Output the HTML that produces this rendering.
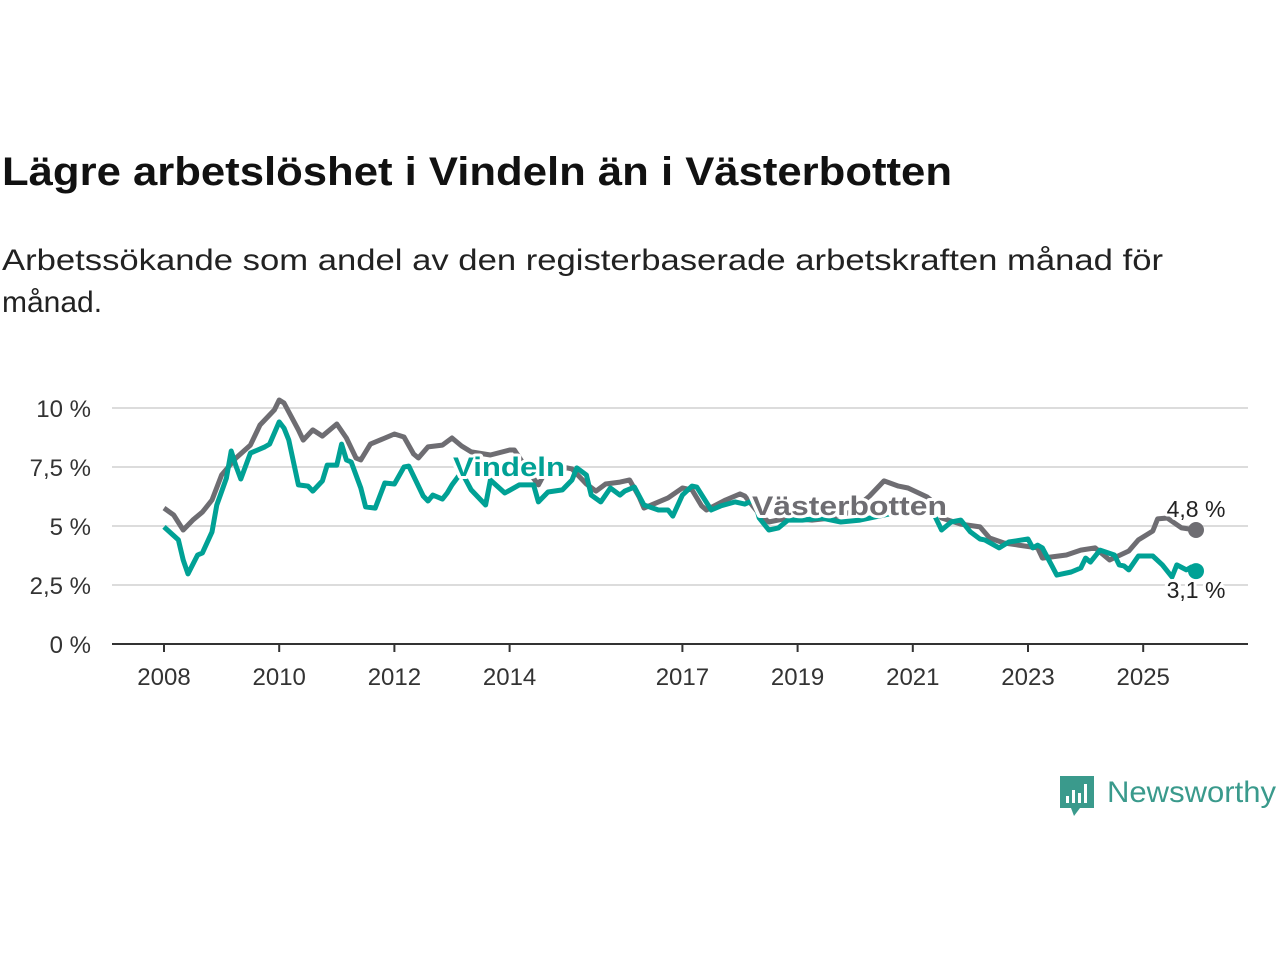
<!DOCTYPE html>
<html><head><meta charset="utf-8"><style>
body{margin:0;background:#fff;}
svg{display:block;font-family:"Liberation Sans",sans-serif;}
</style></head><body>
<svg width="1280" height="960" viewBox="0 0 1280 960">
<text x="2" y="185" font-size="40" font-weight="bold" fill="#111" textLength="950" lengthAdjust="spacingAndGlyphs">Lägre arbetslöshet i Vindeln än i Västerbotten</text>
<text x="2" y="270" font-size="30" fill="#222" textLength="1161" lengthAdjust="spacingAndGlyphs">Arbetssökande som andel av den registerbaserade arbetskraften månad för</text>
<text x="2" y="312" font-size="30" fill="#222">månad.</text>
<g id="grid"></g><g id="series"></g><g id="labels"></g>
<g>
<path d="M1060 776h34v32h-14l-6 8-3-8h-11z" fill="#3a9a8c"/>
<rect x="1066" y="796" width="3" height="7" fill="#fff"/><rect x="1072" y="790" width="3" height="13" fill="#fff"/><rect x="1078" y="793" width="3" height="10" fill="#fff"/><rect x="1084" y="784" width="3" height="19" fill="#fff"/>
<text x="1107" y="802" font-size="30" fill="#3a9a8c" textLength="169" lengthAdjust="spacingAndGlyphs">Newsworthy</text>
</g>
</svg>
<script>
const yTicks=[0,2.5,5,7.5,10];
const yTickLabels=["0 %","2,5 %","5 %","7,5 %","10 %"];
const xTicks=[2008,2010,2012,2014,2017,2019,2021,2023,2025];
const vbMonths=[0,2,4,6,8,10,12,15,18,20,23,24,25,28,29,31,33,36,38,40,41,43,45,48,50,52,53,55,58,60,62,64,68,72,73,76,78,79,84,85,88,90,92,95,97,99,100,105,108,110,112,113,117,120,121,124,126,130,135,139,143,147,150,153,155,159,161,162,166,170,172,175,178,182,183,188,191,194,197,201,203,206,207,209,212,215];
const vbValues=[5.76,5.47,4.83,5.25,5.59,6.1,7.16,7.88,8.43,9.28,9.92,10.34,10.21,9.07,8.64,9.07,8.81,9.32,8.73,7.88,7.8,8.47,8.64,8.9,8.77,8.05,7.88,8.35,8.43,8.73,8.39,8.14,8.01,8.22,8.22,7.29,6.74,7.12,7.46,7.42,6.78,6.48,6.78,6.86,6.95,6.23,5.76,6.19,6.61,6.53,5.85,5.68,6.1,6.36,6.27,5.51,5.17,5.34,5.25,5.34,5.59,6.27,6.91,6.69,6.61,6.23,5.89,5.34,5.08,4.96,4.49,4.28,4.19,4.07,3.64,3.77,3.98,4.07,3.56,3.94,4.41,4.79,5.3,5.34,4.92,4.83];
const viMonths=[0,3,4,5,7,8,10,11,13,14,15,16,18,21,22,24,25,26,28,30,31,33,34,36,37,38,39,41,42,44,46,48,50,51,54,55,56,58,59,60,62,64,67,68,71,74,77,78,80,83,85,86,88,89,91,93,95,96,98,100,103,105,106,108,110,111,114,116,119,121,123,124,126,128,130,133,137,141,145,149,153,158,160,161,162,164,166,168,170,171,174,176,180,181,182,183,185,186,189,191,192,193,195,198,199,200,201,203,206,208,210,211,213,214,215];
const viValues=[4.96,4.41,3.56,2.97,3.77,3.86,4.75,5.89,7.03,8.18,7.54,6.99,8.09,8.35,8.47,9.41,9.15,8.64,6.74,6.69,6.48,6.91,7.58,7.58,8.47,7.8,7.71,6.61,5.81,5.76,6.82,6.78,7.5,7.54,6.27,6.06,6.31,6.14,6.4,6.74,7.29,6.53,5.89,6.95,6.4,6.74,6.74,6.02,6.44,6.53,6.95,7.46,7.16,6.31,6.02,6.61,6.31,6.48,6.65,5.89,5.68,5.68,5.42,6.31,6.69,6.65,5.68,5.85,6.02,5.93,6.1,5.34,4.83,4.92,5.25,5.25,5.34,5.17,5.25,5.42,5.59,5.68,5.68,5.25,4.83,5.17,5.25,4.75,4.45,4.41,4.07,4.32,4.45,4.07,4.19,4.07,3.31,2.92,3.05,3.22,3.64,3.47,3.98,3.77,3.35,3.31,3.14,3.73,3.73,3.35,2.84,3.35,3.14,3.26,3.05,3.09];
const NS="http://www.w3.org/2000/svg";
const X0=164,PXY=57.6,Y0=644,PXV=23.6;
function xm(m){return X0+m*PXY/12;}
function xy(yr){return X0+(yr-2008)*PXY;}
function yv(v){return Y0-v*PXV;}
function mk(tag,attrs,parent,txt){const e=document.createElementNS(NS,tag);for(const k in attrs)e.setAttribute(k,attrs[k]);if(txt!==undefined)e.textContent=txt;parent.appendChild(e);return e;}
const grid=document.getElementById('grid');
yTicks.forEach((t,i)=>{
  if(t>0){const l=mk('line',{x1:112,x2:1248,y1:yv(t),y2:yv(t),stroke:'#dcdcdc','stroke-width':2},grid);
  
  }
  const tx=mk('text',{x:91,y:yv(t)+9,'font-size':24,fill:'#333','text-anchor':'end'},grid,yTickLabels[i]);
  
  
});
const ax=mk('line',{x1:112,x2:1248,y1:Y0,y2:Y0,stroke:'#333','stroke-width':2},grid);


xTicks.forEach(t=>{
  mk('line',{x1:xy(t),x2:xy(t),y1:Y0,y2:Y0+8,stroke:'#333','stroke-width':2},grid);
  const tx=mk('text',{x:xy(t),y:685,'font-size':24,fill:'#333','text-anchor':'middle'},grid,String(t));
  
  
});
const ser=document.getElementById('series');
function line(ms,vs,col,name){
  const d=ms.map((m,i)=>(i?'L':'M')+xm(m).toFixed(1)+' '+yv(vs[i]).toFixed(1)).join('');
  const p=mk('path',{d:d,fill:'none',stroke:col,'stroke-width':5,'stroke-linejoin':'round'},ser);
  
  
  const c=mk('circle',{cx:xm(ms[ms.length-1]),cy:yv(vs[vs.length-1]),r:8,fill:col},ser);
  
  
}
line(vbMonths,vbValues,'#6e6d72','vasterbotten-line');
line(viMonths,viValues,'#00a195','vindeln-line');
const lab=document.getElementById('labels');
function label(x,y,t,col,bold,name,anchor,len){
  const a={x:x,y:y,'font-size':bold?27:23,'font-weight':bold?'bold':'normal',fill:col,stroke:'#fff','stroke-width':6,'paint-order':'stroke','stroke-linejoin':'round','text-anchor':anchor||'start'};
  if(len){a.textLength=len;a.lengthAdjust='spacingAndGlyphs';}
  const e=mk('text',a,lab,t);
  
  
}
label(453,476,'Vindeln','#00a195',true,'vindeln-label','start',112);
label(752,515,'Västerbotten','#6e6d72',true,'vasterbotten-label','start',195);
label(1196,517,'4,8 %','#222',false,'vasterbotten-end-value','middle');
label(1196,598,'3,1 %','#222',false,'vindeln-end-value','middle');
</script>
</body></html>
